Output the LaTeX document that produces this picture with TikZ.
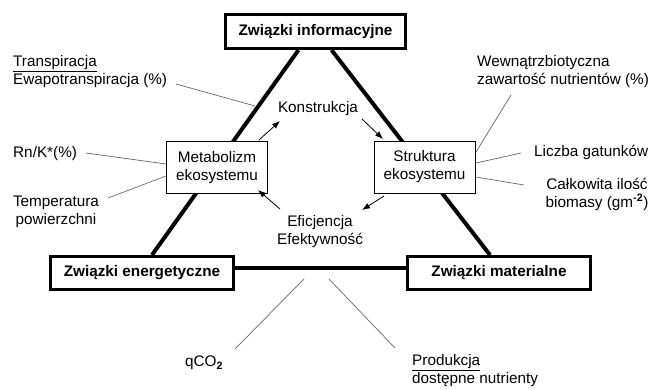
\documentclass[tikz,border=0pt]{standalone}
\usepackage{fontspec}
\setmainfont{Liberation Sans}
\usetikzlibrary{arrows.meta}

\begin{document}
\begin{tikzpicture}[x=1pt,y=-1pt]
    \useasboundingbox (0,0) rectangle (650,388);

        % main boxes
        \begin{scope}[every node/.style={draw,line width=3pt,fill=white,inner sep=0pt,font=\fontsize{15.3}{18}\selectfont\bfseries}]
            \node[minimum width=180pt,minimum height=34pt] (info) at (315.5,31.5) {Związki informacyjne};
            \node[minimum width=183pt,minimum height=33pt] (energ) at (142,273) {Związki energetyczne};
            \node[minimum width=183pt,minimum height=33pt] (mat) at (499,273) {Związki materialne};
        \end{scope}

        % triangle
        \begin{scope}[line width=4pt]
            \draw ([xshift=-17pt]info.south) -- ([xshift=10pt]energ.north);
            \draw ([xshift=16pt]info.south) -- ([xshift=-9pt]mat.north);
            \draw ([yshift=5pt]energ.east) -- ([yshift=5pt]mat.west);
        \end{scope}

        % ecosystem boxes
        \begin{scope}[every node/.style={draw,thin,fill=white,align=center,minimum width=101pt,minimum height=52pt,inner sep=0pt,font=\fontsize{15.3}{18}\selectfont}]
            \node (metab) at (217,167.5) {Metabolizm\\ekosystemu};
            \node (strukt) at (424.5,167) {Struktura\\ekosystemu};
        \end{scope}

        % labels
        \begin{scope}[every node/.style={inner sep=0pt,font=\fontsize{15.3}{18}\selectfont}]
            \node[anchor=west,align=left] (transp) at (13,72) {\underline{Transpiracja}\\Ewapotranspiracja (\%)};
            \node[anchor=west] (rnk) at (13,154) {Rn/K*(\%)};
            \node[align=center] (temp) at (56,212) {Temperatura\\powierzchni};
            \node (konstr) at (318,109) {Konstrukcja};
            \node[align=center] (efic) at (320,232) {Eficjencja\\Efektywność};
            \node[anchor=west,align=left] (wewn) at (477,72) {Wewnątrzbiotyczna\\zawartość nutrientów (\%)};
            \node[anchor=west] (liczba) at (534,152) {Liczba gatunków};
            \node[align=center] (biom) at (597,194) {Całkowita ilość\\biomasy (gm\textsuperscript{\textbf{-2}})};
            \node (qco) at (204,363) {qCO\textsubscript{\textbf{2}}};
            \node[anchor=west,align=left] (prod) at (412,371) {\underline{Produkcja}\\dostępne nutrienty};
        \end{scope}

        % line ends
        \coordinate (t1) at (176,84);   \coordinate (t2) at (255,106);
        \coordinate (r1) at (86,153);   \coordinate (r2) at (166,164);
        \coordinate (p1) at (108,198);  \coordinate (p2) at (166,176);
        \coordinate (w1) at (511,95);   \coordinate (w2) at (476,152);
        \coordinate (l1) at (521,153);  \coordinate (l2) at (476,163);
        \coordinate (c1) at (524,185);  \coordinate (c2) at (476,177);
        \coordinate (q1) at (235,349);  \coordinate (q2) at (304,279);
        \coordinate (d1) at (395,348);  \coordinate (d2) at (329,279);

        \begin{scope}[draw=gray!80!black,line width=0.7pt]
            \foreach \a/\b in {t1/t2,r1/r2,p1/p2,w1/w2,l1/l2,c1/c2,q1/q2,d1/d2}
                \draw (\a) -- (\b);
        \end{scope}

        % cycle arrows
        \coordinate (a1) at (259,140);  \coordinate (a2) at (280,121);
        \coordinate (b1) at (362,119);  \coordinate (b2) at (383,139);
        \coordinate (e1) at (384,196);  \coordinate (e2) at (362,210);
        \coordinate (f1) at (280,209);  \coordinate (f2) at (258,190);

        \begin{scope}[every path/.style={-{Latex[length=8pt,width=6pt]},line width=0.8pt}]
            \path (a1) edge (a2);
            \path (b1) edge (b2);
            \path (e1) edge (e2);
            \path (f1) edge (f2);
        \end{scope}

    \end{tikzpicture}
\end{document}
